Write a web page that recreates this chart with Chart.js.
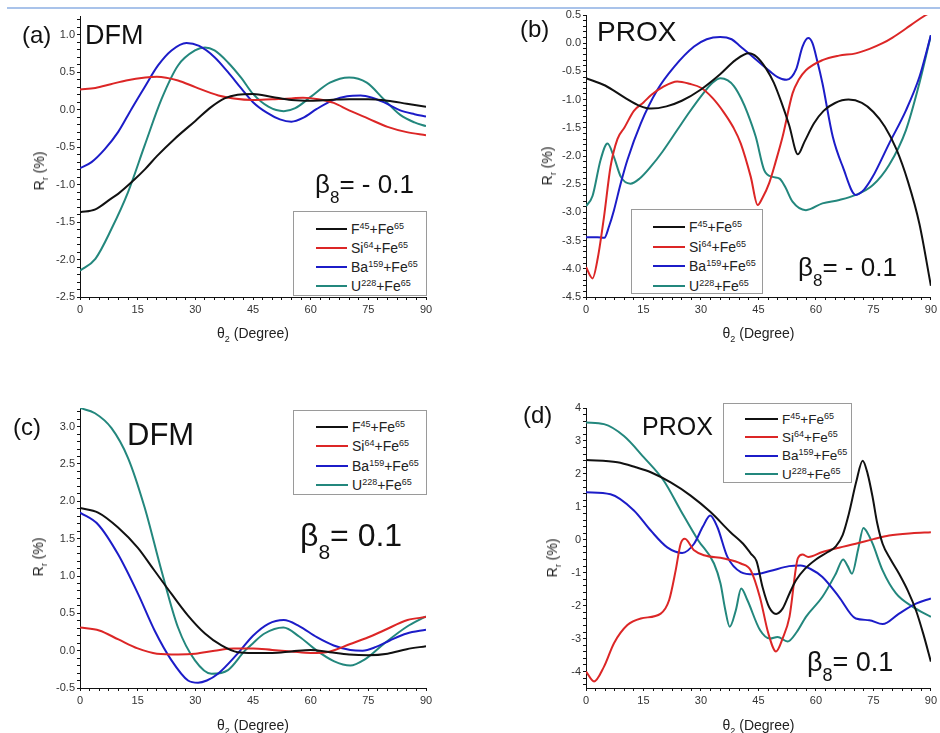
<!DOCTYPE html>
<html>
<head>
<meta charset="utf-8">
<script src="https://cdn.jsdelivr.net/npm/chart.js@4.4.1/dist/chart.umd.min.js"></script>
<style>
  html, body { margin: 0; padding: 0; background: #fff; }
  #page { position: relative; width: 940px; height: 733px; overflow: hidden; font-family: "Liberation Sans", Arial, sans-serif; color: #111; }
  #page canvas { position: absolute; }
  .txt { position: absolute; white-space: nowrap; line-height: 1; }
  .txt .sub { line-height: 0; }
  .xtitle { position: absolute; white-space: nowrap; font-size: 14px; line-height: 1; transform: translateX(-50%); color: #222; }
  .ytitle { position: absolute; white-space: nowrap; font-size: 14px; line-height: 1; transform: translate(-50%, -50%) rotate(-90deg); color: #222; }
  .xtitle sub, .ytitle sub { font-size: 9px; line-height: 0; }
  .legend { position: absolute; border: 1px solid #9a9a9a; background: #fff; box-sizing: border-box; }
  .legend .row { display: flex; align-items: center; color: #222; }
  .legend .swatch { display: inline-block; height: 2px; margin-right: 4px; }
  .legend sup { font-size: 9px; vertical-align: 5px; line-height: 0; }
  #topline { position: absolute; left: 7px; right: 0; top: 7px; height: 2px; background: #a9c3ea; }
</style>
</head>
<body>
<div id="page"><div id="topline"></div></div>
<script>
// R_r (%) against theta_2 (degree) as [theta, R] pairs

// (a) DFM, beta8 = -0.1
const dfmNegF = [[0,-1.37],[4,-1.33],[8,-1.19],[10,-1.12],[13.8,-0.95],[17,-0.79],[20,-0.62],[24.6,-0.39],[30,-0.15],[34,0.03],[37.6,0.15],[41,0.20],[45,0.21],[50,0.17],[55,0.13],[60,0.12],[65,0.13],[70,0.14],[75,0.14],[80,0.12],[85,0.08],[90,0.04]];
const dfmNegSi = [[0,0.27],[4,0.29],[8,0.34],[12,0.39],[17,0.43],[20,0.44],[25.5,0.39],[30,0.30],[36,0.19],[40,0.15],[45,0.13],[50,0.14],[55,0.15],[58,0.16],[62,0.14],[66,0.09],[70,-0.01],[75,-0.12],[80,-0.23],[85,-0.30],[90,-0.34]];
const dfmNegBa = [[0,-0.78],[3,-0.70],[6.4,-0.53],[9.9,-0.30],[13.4,0.01],[16.8,0.30],[20.3,0.59],[23.8,0.79],[27.7,0.89],[31,0.85],[35,0.70],[38.5,0.50],[42,0.28],[45,0.10],[48.6,-0.04],[52,-0.13],[55,-0.16],[58,-0.11],[61.6,0.01],[66,0.13],[69.5,0.18],[73,0.19],[76,0.16],[79,0.10],[83.3,-0.01],[87,-0.06],[90,-0.09]];
const dfmNegU = [[0,-2.15],[4,-1.99],[8.2,-1.59],[12.5,-1.10],[16.8,-0.48],[21.2,0.14],[25.5,0.59],[29.9,0.79],[32.5,0.83],[35,0.79],[38.5,0.63],[42,0.42],[45,0.21],[49,0.04],[53,-0.02],[56,0.02],[60,0.17],[65,0.36],[70,0.43],[74.6,0.36],[79,0.14],[83.3,-0.07],[87,-0.17],[90,-0.22]];

// (b) PROX, beta8 = -0.1
const proxNegF = [[0,-0.62],[5,-0.75],[10,-0.96],[14,-1.11],[17,-1.16],[21,-1.12],[25,-1.02],[30,-0.82],[35,-0.55],[39,-0.30],[42.5,-0.18],[44.5,-0.24],[47,-0.45],[49,-0.70],[51,-1.05],[53,-1.45],[55.3,-1.97],[57,-1.75],[59.5,-1.42],[62,-1.20],[65,-1.06],[68.5,-1.00],[72,-1.06],[75,-1.22],[78,-1.48],[81,-1.88],[84,-2.45],[87,-3.20],[90,-4.30]];
const proxNegSi = [[0,-3.97],[1.7,-4.17],[3.1,-3.80],[4.7,-3.08],[6.4,-2.19],[8.2,-1.70],[10,-1.50],[12.5,-1.20],[15,-1.05],[17,-0.92],[20,-0.78],[23.8,-0.68],[27,-0.72],[30,-0.79],[33,-0.97],[36,-1.23],[38.5,-1.50],[40.4,-1.78],[43,-2.37],[44.8,-2.87],[46,-2.75],[47.8,-2.48],[49.5,-2.10],[51.3,-1.66],[53.9,-0.89],[55.5,-0.65],[57.4,-0.48],[61.7,-0.30],[66,-0.22],[70.4,-0.18],[74,-0.10],[77.4,0.0],[80,0.10],[83.5,0.26],[86,0.38],[88.7,0.50],[90,0.55]];
const proxNegBa = [[0,-3.44],[3,-3.44],[4.8,-3.45],[6,-3.25],[7.3,-2.96],[9,-2.50],[10.8,-2.07],[14.3,-1.42],[18.6,-0.83],[23,-0.42],[28.2,-0.06],[31.5,0.07],[35,0.11],[38,0.07],[40,-0.04],[43.5,-0.24],[48,-0.50],[50,-0.60],[52.3,-0.65],[54.8,-0.47],[56.5,-0.06],[58,0.09],[59.1,0.0],[60.4,-0.33],[61.7,-0.71],[64.4,-1.66],[67,-2.19],[70.4,-2.69],[72.5,-2.60],[74.8,-2.37],[79.1,-1.78],[83.5,-1.19],[87,-0.60],[90,0.14]];
const proxNegU = [[0,-2.89],[1.7,-2.71],[3.8,-2.07],[5.6,-1.78],[7.3,-2.02],[9.1,-2.37],[11.6,-2.49],[14,-2.40],[16.9,-2.19],[20,-1.92],[23.8,-1.54],[27,-1.22],[29.9,-0.95],[33,-0.70],[35.1,-0.62],[37,-0.66],[38.6,-0.76],[40.5,-0.98],[42.1,-1.23],[44.3,-1.66],[46.5,-2.25],[48.7,-2.37],[50.5,-2.40],[52,-2.55],[53.9,-2.81],[57.4,-2.96],[61.7,-2.84],[66.1,-2.78],[70.4,-2.69],[74.8,-2.52],[79.1,-2.16],[83.5,-1.54],[87,-0.71],[90,0.14]];

// (c) DFM, beta8 = 0.1
const dfmPosF = [[0,1.91],[4.7,1.85],[9.9,1.65],[15,1.38],[19.4,1.07],[23.8,0.76],[28.1,0.47],[32.5,0.23],[36.8,0.07],[41,-0.02],[45,-0.03],[50,-0.03],[55,-0.01],[60,0.01],[65,-0.02],[70,-0.05],[75,-0.06],[80,-0.04],[85,0.02],[90,0.06]];
const dfmPosSi = [[0,0.31],[5,0.27],[10,0.15],[15,0.03],[20,-0.04],[25.5,-0.05],[30,-0.04],[35,0.0],[40,0.03],[45,0.03],[50,0.01],[55,-0.01],[60,-0.03],[65,-0.01],[70.3,0.09],[75,0.18],[79,0.27],[85.2,0.41],[90,0.45]];
const dfmPosBa = [[0,1.85],[4.7,1.69],[9.9,1.29],[15.1,0.76],[19.4,0.27],[23.8,-0.13],[28.1,-0.40],[30.7,-0.43],[33,-0.40],[35.9,-0.31],[41,-0.04],[45,0.20],[49,0.36],[53,0.41],[57,0.33],[61.6,0.18],[66,0.07],[70.3,0.01],[73.5,0.0],[77,0.05],[80.7,0.14],[85,0.23],[90,0.28]];
const dfmPosU = [[0,3.25],[3.9,3.18],[8.2,2.98],[12.5,2.58],[16.8,1.92],[21.2,1.07],[25.5,0.31],[29.9,-0.13],[34.2,-0.31],[38.5,-0.26],[42.9,0.0],[45,0.1],[48,0.23],[52.9,0.31],[57,0.19],[61.6,0.0],[66,-0.14],[70.3,-0.20],[74,-0.12],[79,0.09],[85,0.32],[90,0.46]];

// (d) PROX, beta8 = 0.1
const proxPosF = [[0,2.42],[8.2,2.35],[13,2.20],[16.9,2.05],[22.1,1.74],[27.3,1.34],[32.5,0.84],[37.7,0.23],[41,-0.12],[43,-0.42],[44.5,-0.65],[46.1,-1.45],[47.8,-2.05],[49.6,-2.25],[51.3,-2.09],[53.1,-1.63],[54.8,-1.23],[57,-0.90],[60,-0.60],[63,-0.38],[65.2,-0.20],[67,0.15],[68.6,0.79],[70.5,1.75],[72.2,2.40],[73.5,2.00],[74.8,1.29],[76,0.50],[77.4,-0.12],[79.5,-0.60],[81.7,-1.03],[84,-1.55],[86.1,-2.14],[88,-2.85],[90,-3.70]];
const proxPosSi = [[0,-4.0],[2.1,-4.30],[4.7,-3.85],[7.3,-3.14],[10.8,-2.59],[14.3,-2.39],[19.5,-2.24],[21.7,-1.83],[23.4,-0.93],[24.7,-0.12],[25.8,0.03],[28.2,-0.32],[30.8,-0.47],[36,-0.57],[40.4,-0.72],[43,-0.93],[45.4,-1.75],[47.6,-2.85],[49.6,-3.39],[51.3,-3.00],[53.1,-2.34],[55.3,-0.56],[56.5,-0.45],[58,-0.52],[61.7,-0.37],[66,-0.24],[70.4,-0.12],[75,0.02],[79.1,0.13],[85,0.20],[90,0.23]];
const proxPosBa = [[0,1.44],[6.4,1.38],[12.5,0.89],[16.9,0.28],[21.2,-0.23],[25.1,-0.40],[28.2,-0.12],[30.5,0.40],[32.4,0.74],[34.3,0.38],[36.9,-0.52],[40.4,-0.98],[43.8,-1.05],[48,-0.95],[53,-0.80],[56,-0.78],[58.5,-0.88],[61.7,-1.13],[66,-1.73],[70.4,-2.39],[73.9,-2.44],[77.4,-2.56],[81.7,-2.24],[86.1,-1.94],[90,-1.78]];
const proxPosU = [[0,3.56],[4.7,3.51],[9.9,3.15],[15.1,2.50],[20.3,1.79],[24.7,0.89],[29.3,-0.02],[33.4,-0.72],[35.1,-1.33],[36.3,-2.10],[37.5,-2.64],[39.1,-2.14],[40.5,-1.48],[42.1,-1.83],[45.4,-2.74],[48,-3.00],[50,-2.95],[52.6,-3.09],[55,-2.80],[57.4,-2.34],[61.7,-1.73],[65.2,-1.03],[67.1,-0.60],[68.3,-0.80],[69.4,-1.03],[71,-0.30],[72.4,0.36],[73.5,0.20],[74.8,-0.12],[77.4,-0.93],[80.9,-1.63],[85.2,-2.03],[90,-2.34]];

const projectiles = [["F", "45"], ["Si", "64"], ["Ba", "159"], ["U", "228"]];
const target = ["Fe", "65"];
const colors = ["#111111", "#dc2626", "#1c1cc8", "#23877d"];

const page = document.querySelector("#page");
const isMul = (v, m) => Math.abs(v / m - Math.round(v / m)) < 1e-6;

const panels = [
  {
    box: { left: 0, top: 0, w: 470, h: 360 }, area: { l: 80, r: 426, t: 16, b: 297 },
    y: { min: -2.5, max: 1.25, minor: 0.1, major: 0.5, dec: 1 },
    series: [dfmNegF, dfmNegSi, dfmNegBa, dfmNegU],
    tag: { text: "(a)", x: 22, base: 43.5, size: 24 },
    method: { text: "DFM", x: 85, base: 45, size: 27 },
    beta: { value: "- 0.1", x: 315, base: 193, size: 26, sub: 17, drop: 10 },
    legend: { x: 293, y: 211, w: 134, h: 85, padL: 22, padT: 7, lineW: 31, rowH: 19, font: 14 },
    xTitle: { cx: 253, base: 338 }, yTitle: { cx: 39, cy: 171 }
  },
  {
    box: { left: 470, top: 0, w: 470, h: 360 }, area: { l: 116, r: 461, t: 15, b: 297 },
    y: { min: -4.5, max: 0.5, minor: 0.1, major: 0.5, dec: 1 },
    series: [proxNegF, proxNegSi, proxNegBa, proxNegU],
    tag: { text: "(b)", x: 520, base: 37, size: 24 },
    method: { text: "PROX", x: 597, base: 41.7, size: 28 },
    beta: { value: "- 0.1", x: 798, base: 276, size: 26, sub: 17, drop: 10 },
    legend: { x: 631, y: 209, w: 132, h: 85, padL: 21, padT: 7, lineW: 32, rowH: 19.7, font: 14 },
    xTitle: { cx: 758.5, base: 338 }, yTitle: { cx: 547, cy: 166 }
  },
  {
    box: { left: 0, top: 370, w: 470, h: 363 }, area: { l: 80, r: 426, t: 38, b: 318 },
    y: { min: -0.5, max: 3.25, minor: 0.1, major: 0.5, dec: 1 },
    series: [dfmPosF, dfmPosSi, dfmPosBa, dfmPosU],
    tag: { text: "(c)", x: 13, base: 435, size: 24 },
    method: { text: "DFM", x: 127, base: 445, size: 31 },
    beta: { value: "0.1", x: 300, base: 546, size: 32, sub: 21, drop: 13 },
    legend: { x: 293, y: 410, w: 134, h: 85, padL: 22, padT: 6.5, lineW: 32, rowH: 19.3, font: 14 },
    xTitle: { cx: 253, base: 730 }, yTitle: { cx: 37.5, cy: 557 }
  },
  {
    box: { left: 470, top: 370, w: 470, h: 363 }, area: { l: 116, r: 461, t: 38, b: 318 },
    y: { min: -4.5, max: 4, minor: 0.2, major: 1, dec: 0 },
    series: [proxPosF, proxPosSi, proxPosBa, proxPosU],
    tag: { text: "(d)", x: 523, base: 423.5, size: 24 },
    method: { text: "PROX", x: 642, base: 435, size: 25 },
    beta: { value: "0.1", x: 807, base: 672, size: 27, sub: 18, drop: 10 },
    legend: { x: 723, y: 403, w: 129, h: 80, padL: 21, padT: 6, lineW: 33, rowH: 18.3, font: 13.5 },
    xTitle: { cx: 758.5, base: 730 }, yTitle: { cx: 552, cy: 558 }
  }
];

const addText = (html, x, base, size) => {
  const el = document.createElement("div");
  el.className = "txt";
  el.style.left = x + "px";
  el.style.top = (base - 0.8465 * size) + "px";
  el.style.fontSize = size + "px";
  el.innerHTML = html;
  page.appendChild(el);
};

const tickFont = { family: "'Liberation Sans', Arial, sans-serif", size: 11 };

const drawPanel = p => {
  const canvas = document.createElement("canvas");
  canvas.width = p.box.w;
  canvas.height = p.box.h;
  canvas.style.left = p.box.left + "px";
  canvas.style.top = p.box.top + "px";
  canvas.style.width = p.box.w + "px";
  canvas.style.height = p.box.h + "px";
  page.appendChild(canvas);

  const yAxisW = 40;
  const xAxisH = 24;

  new Chart(canvas, {
    type: "line",
    data: {
      datasets: p.series.map((pts, i) => ({
        label: `${projectiles[i][0]}${projectiles[i][1]}+${target[0]}${target[1]}`,
        data: pts.map(([x, y]) => ({ x, y })),
        borderColor: colors[i],
        borderWidth: 2,
        pointRadius: 0,
        cubicInterpolationMode: "monotone",
        fill: false
      }))
    },
    options: {
      responsive: false,
      animation: false,
      devicePixelRatio: 1,
      layout: {
        padding: {
          left: p.area.l - yAxisW,
          right: p.box.w - p.area.r,
          top: p.area.t,
          bottom: p.box.h - p.area.b - xAxisH
        }
      },
      plugins: { legend: { display: false }, tooltip: { enabled: false } },
      scales: {
        x: {
          type: "linear",
          min: 0,
          max: 90,
          afterFit: s => { s.height = xAxisH; },
          border: { color: "#111", width: 1 },
          grid: { drawOnChartArea: false, tickLength: 3, tickColor: "#111" },
          ticks: {
            stepSize: 2.5,
            autoSkip: false,
            maxRotation: 0,
            includeBounds: false,
            padding: 3,
            color: "#333",
            font: tickFont,
            callback: v => isMul(v, 15) ? String(Math.round(v)) : ""
          }
        },
        y: {
          type: "linear",
          min: p.y.min,
          max: p.y.max,
          afterFit: s => { s.width = yAxisW; },
          border: { color: "#111", width: 1 },
          grid: { drawOnChartArea: false, tickLength: 3, tickColor: "#111" },
          ticks: {
            stepSize: p.y.minor,
            autoSkip: false,
            includeBounds: false,
            padding: 2,
            color: "#333",
            font: tickFont,
            callback: v => isMul(v, p.y.major) ? Number(v).toFixed(p.y.dec) : ""
          }
        }
      }
    }
  });

  addText(p.tag.text, p.tag.x, p.tag.base, p.tag.size);
  addText(p.method.text, p.method.x, p.method.base, p.method.size);
  addText(`β<span class="sub" style="font-size:${p.beta.sub}px;vertical-align:-${p.beta.drop}px">8</span>= ${p.beta.value}`,
    p.beta.x, p.beta.base, p.beta.size);

  const lg = document.createElement("div");
  lg.className = "legend";
  lg.style.left = p.legend.x + "px";
  lg.style.top = p.legend.y + "px";
  lg.style.width = p.legend.w + "px";
  lg.style.height = p.legend.h + "px";
  lg.style.paddingLeft = p.legend.padL + "px";
  lg.style.paddingTop = p.legend.padT + "px";
  lg.innerHTML = projectiles.map((proj, i) => `
    <div class="row" style="height:${p.legend.rowH}px;font-size:${p.legend.font}px">
      <span class="swatch" style="width:${p.legend.lineW}px;background:${colors[i]}"></span>
      <span>${proj[0]}<sup>${proj[1]}</sup>+${target[0]}<sup>${target[1]}</sup></span>
    </div>`).join("");
  page.appendChild(lg);

  const xt = document.createElement("div");
  xt.className = "xtitle";
  xt.style.left = p.xTitle.cx + "px";
  xt.style.top = (p.xTitle.base - 0.8465 * 14) + "px";
  xt.innerHTML = "θ<sub>2</sub> (Degree)";
  page.appendChild(xt);

  const yt = document.createElement("div");
  yt.className = "ytitle";
  yt.style.left = p.yTitle.cx + "px";
  yt.style.top = p.yTitle.cy + "px";
  yt.innerHTML = "R<sub>r</sub> (%)";
  page.appendChild(yt);
};

panels.forEach(drawPanel);
</script>
</body>
</html>
